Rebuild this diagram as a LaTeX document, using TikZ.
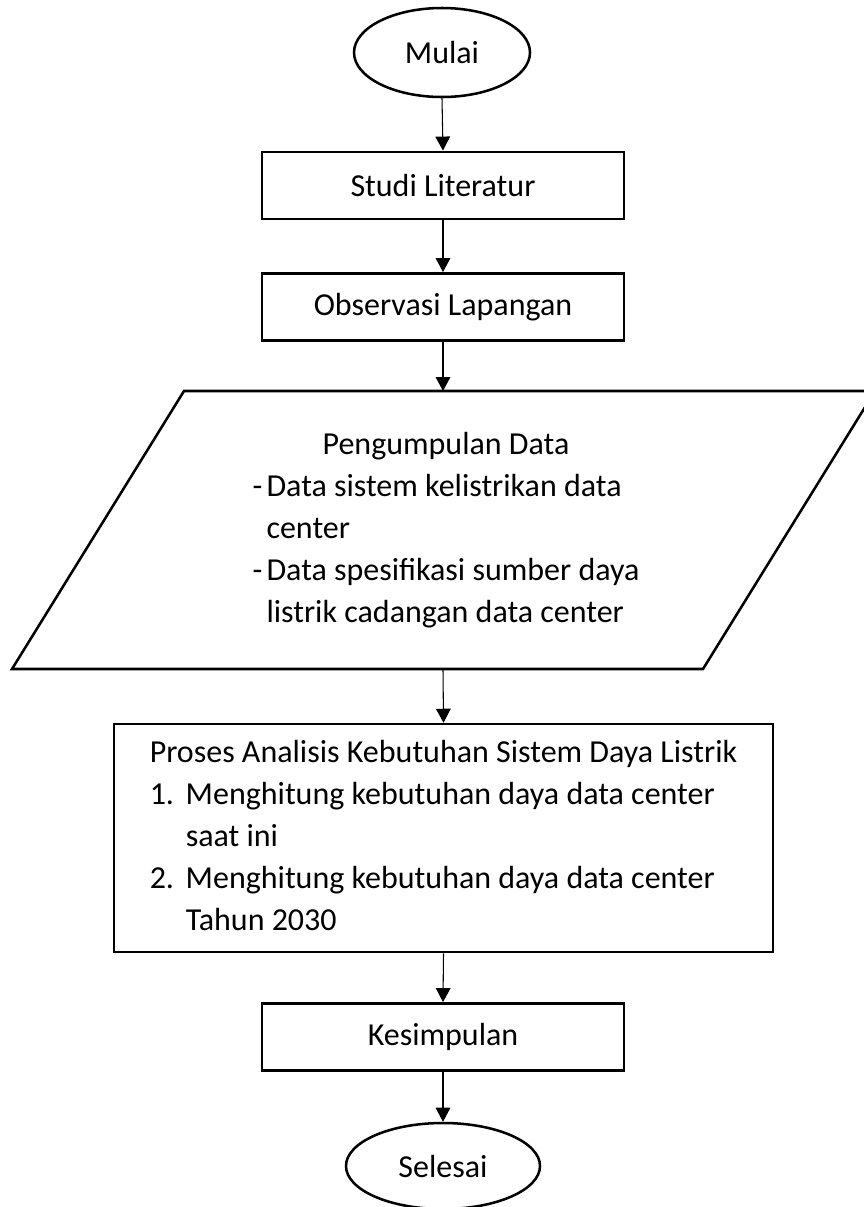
\documentclass[tikz,border=0pt]{standalone}
\usepackage{fontspec}
\setmainfont{Carlito}
\usetikzlibrary{arrows.meta,shapes.geometric}
\begin{document}
\begin{tikzpicture}[x=0.75pt,y=-0.75pt,
  txt/.style={font=\fontsize{24pt}{31.5pt}\selectfont, inner sep=0pt},
  box/.style={txt, draw, line width=1.9pt, minimum width=271.5pt, minimum height=50.5pt},
  term/.style={txt, draw, ellipse, line width=1.9pt},
  conn/.style={line width=0.8pt, -{Triangle[width=11pt,length=10.5pt]}}]
\useasboundingbox (0,0) rectangle (864,1207);
\clip (0,0) rectangle (864,1207);
% terminals and boxes
\node[term, minimum width=132pt, minimum height=66.75pt] (mulai) at (442,52.5) {Mulai};
\node[box] (studi) at (443,185.5) {Studi Literatur};
\node[box] (obs) at (443,307) {Observasi Lapangan};
% parallelogram
\draw[line width=1.9pt, line join=miter] (184,391) -- (875,391) -- (703,669) -- (12,669) -- cycle;
\coordinate (pdtop) at (443,391);
\coordinate (pdbot) at (443,669);
\node[txt] (pd) at (446,530) {\begin{tabular}{@{}l@{}l@{}}
\multicolumn{2}{@{}c@{}}{Pengumpulan Data}\\
\makebox[10.5pt][l]{-}&Data sistem kelistrikan data\\
&center\\
-&Data spesifikasi sumber daya\\
&listrik cadangan data center
\end{tabular}};
\node[txt, draw, line width=1.9pt, minimum width=494.25pt, minimum height=171pt] (proses) at (443.5,838) {\begin{tabular}{@{}l@{}l@{}}
\multicolumn{2}{@{}l@{}}{Proses Analisis Kebutuhan Sistem Daya Listrik}\\
\makebox[27pt][l]{1.}&Menghitung kebutuhan daya data center\\
&saat ini\\
2.&Menghitung kebutuhan daya data center\\
&Tahun 2030
\end{tabular}};
\node[box] (kes) at (443,1037) {Kesimpulan};
\node[term, minimum width=145.5pt, minimum height=64.5pt] (selesai) at (443,1166) {Selesai};
% connectors
\draw[conn] (mulai.south) -- (studi.north);
\draw[conn] (studi.south) -- (obs.north);
\draw[conn] (obs.south) -- (pdtop);
\draw[conn] (pdbot) -- (proses.north);
\draw[conn] (proses.south) -- (kes.north);
\draw[conn] (kes.south) -- (selesai.north);
\end{tikzpicture}
\end{document}
